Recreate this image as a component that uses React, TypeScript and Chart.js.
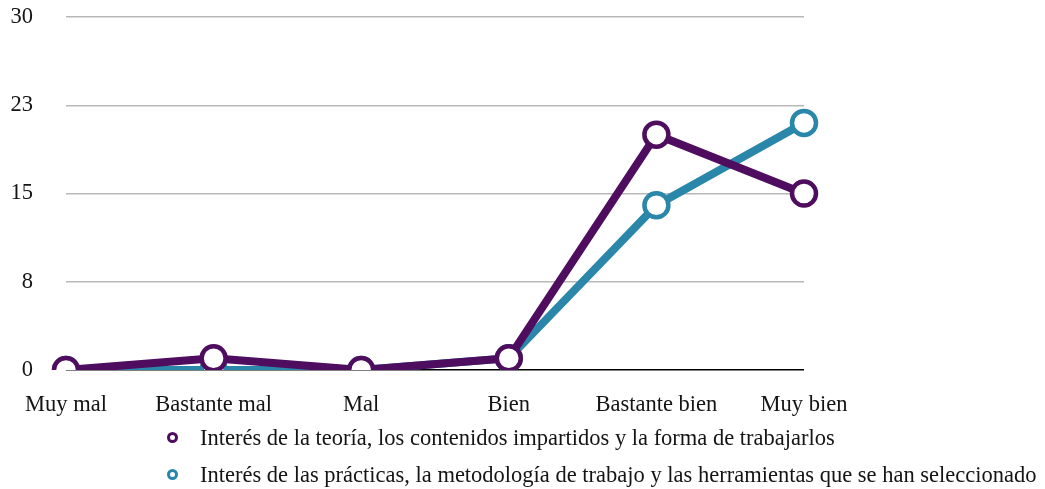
import { useEffect, useRef } from "react";
import { Chart, registerables } from "chart.js";

Chart.register(...registerables);

const categories = ["Muy mal", "Bastante mal", "Mal", "Bien", "Bastante bien", "Muy bien"];
const teoriaValues = [0, 1, 0, 1, 20, 15];
const practicasValues = [0, 0, 0, 1, 14, 21];
const yTickValues = [0, 7.5, 15, 22.5, 30];
const yTickLabels = ["0", "8", "15", "23", "30"];
const seriesNames = [
  "Interés de la teoría, los contenidos impartidos y la forma de trabajarlos",
  "Interés de las prácticas, la metodología de trabajo y las herramientas que se han seleccionado",
];
const seriesColors = ["#4e0d5e", "#2a87a9"];

const FONT_FAMILY = '"Liberation Serif", "Times New Roman", serif';
const FONT_SIZE = 22.5;

export default function App() {
  const canvasRef = useRef<HTMLCanvasElement | null>(null);

  useEffect(() => {
    if (!canvasRef.current) return;
    const seriesValues = [teoriaValues, practicasValues];
    const chart = new Chart(canvasRef.current, {
      type: "line",
      data: {
        labels: categories,
        datasets: seriesValues.map((vals, i) => ({
          label: seriesNames[i],
          data: vals,
          borderColor: seriesColors[i],
          backgroundColor: "#ffffff",
          borderWidth: 8,
          pointRadius: 12,
          pointBorderWidth: 4.5,
          pointBackgroundColor: "#ffffff",
          pointBorderColor: seriesColors[i],
          tension: 0,
          fill: false,
        })),
      },
      options: {
        responsive: false,
        animation: false,
        layout: { padding: { top: 17, right: 241, left: 0, bottom: 0 } },
        plugins: {
          legend: { display: false },
          tooltip: { enabled: false },
        },
        scales: {
          x: {
            offset: false,
            grid: { display: false, drawTicks: false },
            border: { display: false },
            ticks: {
              autoSkip: false,
              maxRotation: 0,
              padding: 22,
              color: "#141414",
              font: { family: FONT_FAMILY, size: FONT_SIZE },
            },
            afterFit: (scale: any) => {
              scale.height = 60;
              scale.paddingLeft = 0;
              scale.paddingRight = 0;
              scale.paddingTop = 0;
              scale.paddingBottom = 0;
            },
          },
          y: {
            min: 0,
            max: 30,
            afterBuildTicks: (scale: any) => {
              scale.ticks = yTickValues.map((v) => ({ value: v }));
            },
            grid: {
              drawTicks: false,
              color: (ctx: any) => (ctx.tick && ctx.tick.value === 0 ? "#000000" : "#b8b8b8"),
              lineWidth: 1.5,
            },
            border: { display: false },
            ticks: {
              padding: 33,
              color: "#141414",
              font: { family: FONT_FAMILY, size: FONT_SIZE },
              callback: (_v: any, i: number) => yTickLabels[i],
            },
            afterFit: (scale: any) => {
              scale.width = 66;
              scale.paddingTop = 0;
              scale.paddingBottom = 0;
              scale.paddingLeft = 0;
              scale.paddingRight = 0;
            },
          },
        },
      },
    });
    return () => chart.destroy();
  }, []);

  return (
    <div
      style={{
        position: "absolute",
        left: 0,
        top: 0,
        width: 1045,
        height: 489,
        background: "#ffffff",
        overflow: "hidden",
      }}
    >
      <canvas ref={canvasRef} width={1045} height={430} style={{ display: "block" }} />
      <div style={{ position: "absolute", left: 167, top: 419 }}>
        {seriesNames.map((name, i) => (
          <div
            key={name}
            style={{
              display: "flex",
              alignItems: "center",
              height: 37,
              whiteSpace: "nowrap",
            }}
          >
            <span
              style={{
                display: "inline-block",
                width: 11,
                height: 11,
                boxSizing: "border-box",
                border: `3px solid ${seriesColors[i]}`,
                borderRadius: "50%",
                marginRight: 22,
              }}
            />
            <span style={{ fontFamily: FONT_FAMILY, fontSize: FONT_SIZE, color: "#141414" }}>{name}</span>
          </div>
        ))}
      </div>
    </div>
  );
}
